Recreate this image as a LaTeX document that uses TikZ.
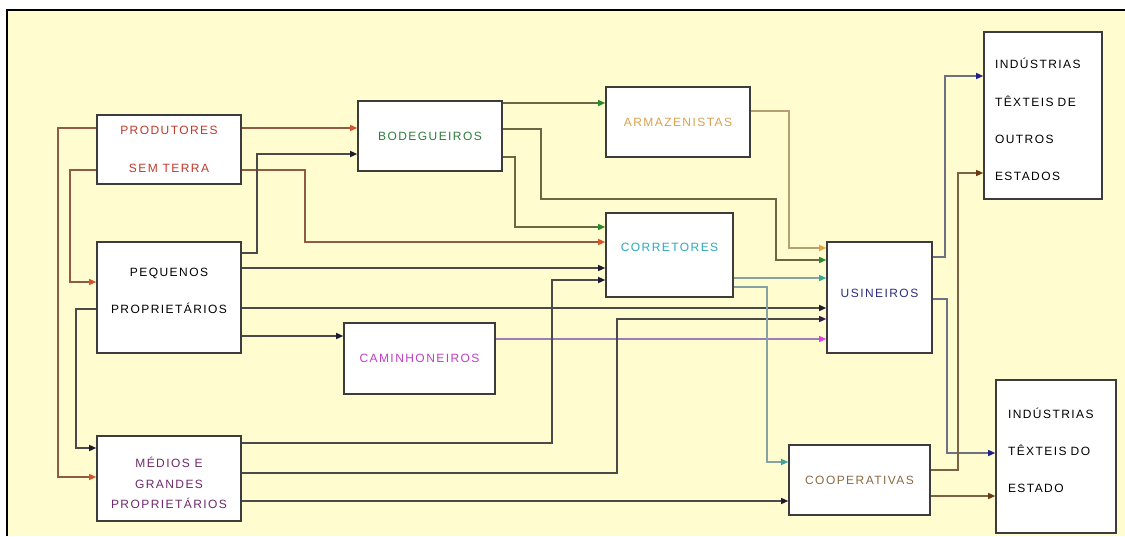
\documentclass[tikz,border=0pt]{standalone}
\usepackage{fontspec}
\setmainfont{Liberation Sans}[LetterSpace=12]
\usetikzlibrary{arrows.meta}

\definecolor{bgcream}{HTML}{FFFCD0}
\definecolor{boxline}{HTML}{3C3C3C}
\definecolor{prodtxt}{HTML}{C0392B}
\definecolor{prodtip}{HTML}{D4552B}
\definecolor{prodline}{HTML}{8E5B45}
\definecolor{bodtxt}{HTML}{2E7D3A}
\definecolor{bodtip}{HTML}{2A8A2A}
\definecolor{bodline}{HTML}{6C6644}
\definecolor{armtxt}{HTML}{D9A24E}
\definecolor{armtip}{HTML}{E3A43C}
\definecolor{armline}{HTML}{B4A070}
\definecolor{corrtxt}{HTML}{2FA9BC}
\definecolor{corrtip}{HTML}{3AA69A}
\definecolor{corrline}{HTML}{86A2A2}
\definecolor{camtxt}{HTML}{C23CC8}
\definecolor{camtip}{HTML}{E040E0}
\definecolor{camline}{HTML}{A07CB4}
\definecolor{usintxt}{HTML}{2D2F7E}
\definecolor{usintip}{HTML}{20208C}
\definecolor{usinline}{HTML}{6E7084}
\definecolor{cooptxt}{HTML}{8C6A42}
\definecolor{cooptip}{HTML}{6B3A10}
\definecolor{coopline}{HTML}{7C6244}
\definecolor{medtxt}{HTML}{6E2A6E}
\definecolor{medtip}{HTML}{3A1A4A}
\definecolor{darktip}{HTML}{1C1C30}
\definecolor{darkline}{HTML}{4A4A4A}

\begin{document}
\begin{tikzpicture}[x=1pt, y=-1pt, font=\fontsize{12}{14}\selectfont,
  box/.style={draw=boxline, line width=1.6pt, fill=white, inner sep=0pt, align=center},
  flow/.style 2 args={draw=#1, line width=1.3pt, -{Triangle[length=7pt, width=6pt, color=#2]}}]
\useasboundingbox (0,0) rectangle (1125,536);
\fill[bgcream] (7,10) rectangle (1125,536);
\draw[black, line width=1.5pt] (7,536) -- (7,10) -- (1125,10);

% boxes
\node[box, minimum width=144pt, minimum height=69pt, text=prodtxt] (prod) at (169,149.5) {PRODUTORES\\[24pt]SEM TERRA};
\node[box, minimum width=144pt, minimum height=70pt, text=bodtxt] (bod) at (430,136) {BODEGUEIROS};
\node[box, minimum width=144pt, minimum height=70pt, text=armtxt] (arm) at (678,122) {ARMAZENISTAS};
\node[box, minimum width=127pt, minimum height=84pt, text=corrtxt] (corr) at (669.5,255) {CORRETORES\rule[-16pt]{0pt}{16pt}};
\node[box, minimum width=144pt, minimum height=111pt] (peq) at (169,297.5) {PEQUENOS\\[23pt]PROPRIETÁRIOS\rule[-14pt]{0pt}{14pt}};
\node[box, minimum width=151pt, minimum height=71pt, text=camtxt] (cam) at (419.5,358.5) {CAMINHONEIROS};
\node[box, minimum width=144pt, minimum height=85pt, text=medtxt] (med) at (169,478.5) {\rule{0pt}{20pt}MÉDIOS E\\[6.5pt]GRANDES\\[6.5pt]PROPRIETÁRIOS};
\node[box, minimum width=105pt, minimum height=111pt, text=usintxt] (usin) at (879.5,297.5) {USINEIROS\rule[-9pt]{0pt}{9pt}};
\node[box, minimum width=141pt, minimum height=70pt, text=cooptxt] (coop) at (859.5,480) {COOPERATIVAS};
\node[box, align=left, inner xsep=11pt, text width=96pt, minimum height=167pt] (ind1) at (1043,115.5) {\rule{0pt}{19pt}INDÚSTRIAS\\[23.3pt]TÊXTEIS DE\\[23.3pt]OUTROS\\[23.3pt]ESTADOS};
\node[box, align=left, inner xsep=12pt, text width=96pt, minimum height=153pt] (ind2) at (1056,456.5) {INDÚSTRIAS\\[23pt]TÊXTEIS DO\\[23pt]ESTADO\rule[-13pt]{0pt}{13pt}};

% connectors
\draw[flow={prodline}{prodtip}] (prod.east |- 0,128) -- (bod.west |- 0,128);
\draw[flow={prodline}{prodtip}] (prod.east |- 0,170) -- (305,170) |- (corr.west |- 0,242);
\draw[flow={prodline}{prodtip}] (prod.west |- 0,128) -- (58,128) |- (med.west |- 0,477);
\draw[flow={prodline}{prodtip}] (prod.west |- 0,170) -- (70,170) |- (peq.west |- 0,282);
\draw[flow={darkline}{darktip}] (peq.west |- 0,309) -- (76,309) |- (med.west |- 0,448);
\draw[flow={darkline}{darktip}] (peq.east |- 0,253) -- (257,253) |- (bod.west |- 0,154);
\draw[flow={darkline}{darktip}] (peq.east |- 0,268) -- (corr.west |- 0,268);
\draw[flow={darkline}{darktip}] (peq.east |- 0,308) -- (usin.west |- 0,308);
\draw[flow={darkline}{darktip}] (peq.east |- 0,336) -- (cam.west |- 0,336);
\draw[flow={camline}{camtip}] (cam.east |- 0,339) -- (usin.west |- 0,339);
\draw[flow={darkline}{darktip}] (med.east |- 0,443) -- (552,443) |- (corr.west |- 0,280);
\draw[flow={darkline}{medtip}] (med.east |- 0,473) -- (617,473) |- (usin.west |- 0,319);
\draw[flow={darkline}{darktip}] (med.east |- 0,501) -- (coop.west |- 0,501);
\draw[flow={bodline}{bodtip}] (bod.east |- 0,103) -- (arm.west |- 0,103);
\draw[flow={bodline}{bodtip}] (bod.east |- 0,129) -- (541,129) |- (776,199) |- (usin.west |- 0,260);
\draw[flow={bodline}{bodtip}] (bod.east |- 0,157) -- (515,157) |- (corr.west |- 0,227);
\draw[flow={armline}{armtip}] (arm.east |- 0,111) -- (789,111) |- (usin.west |- 0,248);
\draw[flow={corrline}{corrtip}] (corr.east |- 0,278) -- (usin.west |- 0,278);
\draw[flow={corrline}{corrtip}] (corr.east |- 0,287) -- (767,287) |- (coop.west |- 0,462);
\draw[flow={usinline}{usintip}] (usin.east |- 0,257) -- (945,257) |- (ind1.west |- 0,76);
\draw[flow={usinline}{usintip}] (usin.east |- 0,299) -- (947,299) |- (ind2.west |- 0,453);
\draw[flow={coopline}{cooptip}] (coop.east |- 0,470) -- (958,470) |- (ind1.west |- 0,173);
\draw[flow={coopline}{cooptip}] (coop.east |- 0,496) -- (ind2.west |- 0,496);
\end{tikzpicture}
\end{document}
